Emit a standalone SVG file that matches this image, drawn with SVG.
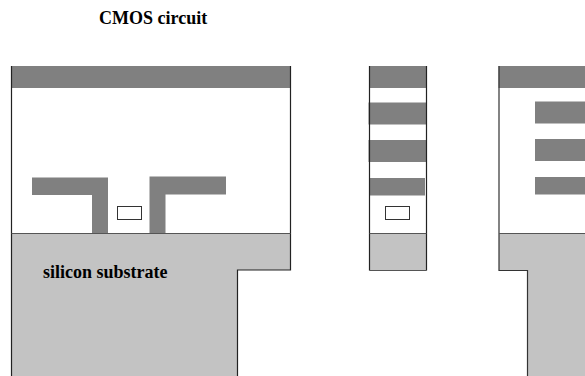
<svg xmlns="http://www.w3.org/2000/svg" width="585" height="376" viewBox="0 0 585 376">
<style>
.m{fill:#808080}
.s{fill:#c3c3c3}
.l{fill:none;stroke:#222;stroke-width:1.2}
.o{fill:#fff;stroke:#333;stroke-width:1}
text{font-family:"Liberation Serif",serif;font-weight:bold;font-size:18px;fill:#000}
</style>
<rect width="585" height="376" fill="#fff"/>
<text x="99" y="24">CMOS circuit</text>
<g id="left-section">
<path class="s" d="M11.500 233.500H290.500V270H237.500V376H11.500Z"/>
<rect class="m" x="11.500" y="66" width="279" height="22"/>
<path class="m" d="M32 177.500H108V233.500H92V195H32Z"/>
<path class="m" d="M149.500 176.500H226V194.500H165.500V233.500H149.500Z"/>
<rect class="o" x="117.500" y="206.500" width="24" height="13"/>
<path class="l" d="M11.500 66V376M290.500 66V270H237.500V376"/>
<path d="M11.500 233.500H290.500" fill="none" stroke="#555" stroke-width="1.200"/>
<text x="43" y="278">silicon substrate</text>
</g>
<g id="middle-section">
<rect class="s" x="369.500" y="233.500" width="57" height="37"/>
<rect class="m" x="369.500" y="66" width="57" height="22"/>
<rect class="m" x="368.500" y="102.500" width="58" height="22"/>
<rect class="m" x="368.500" y="140" width="58" height="22"/>
<rect class="m" x="369" y="178" width="56" height="17.500"/>
<path class="l" d="M369.500 66V270.500M426.500 66V270.500"/>
<path d="M369.500 233.500H426.500M369.500 270.500H426.500" fill="none" stroke="#555" stroke-width="1.200"/>
<rect class="o" x="385.500" y="206.500" width="24" height="13"/>
</g>
<g id="right-section">
<path class="s" d="M499 233.500H585V376H527.500V270.500H499Z"/>
<rect class="m" x="498.500" y="66" width="86.500" height="22"/>
<rect class="m" x="535" y="101.500" width="50" height="22"/>
<rect class="m" x="535" y="139" width="50" height="22"/>
<rect class="m" x="535" y="177" width="50" height="17.500"/>
<path d="M499 66V270.500H527.500V376" fill="none" stroke="#333" stroke-width="1.200"/>
<path d="M499 233.500H585" fill="none" stroke="#555" stroke-width="1.200"/>
</g>
</svg>
